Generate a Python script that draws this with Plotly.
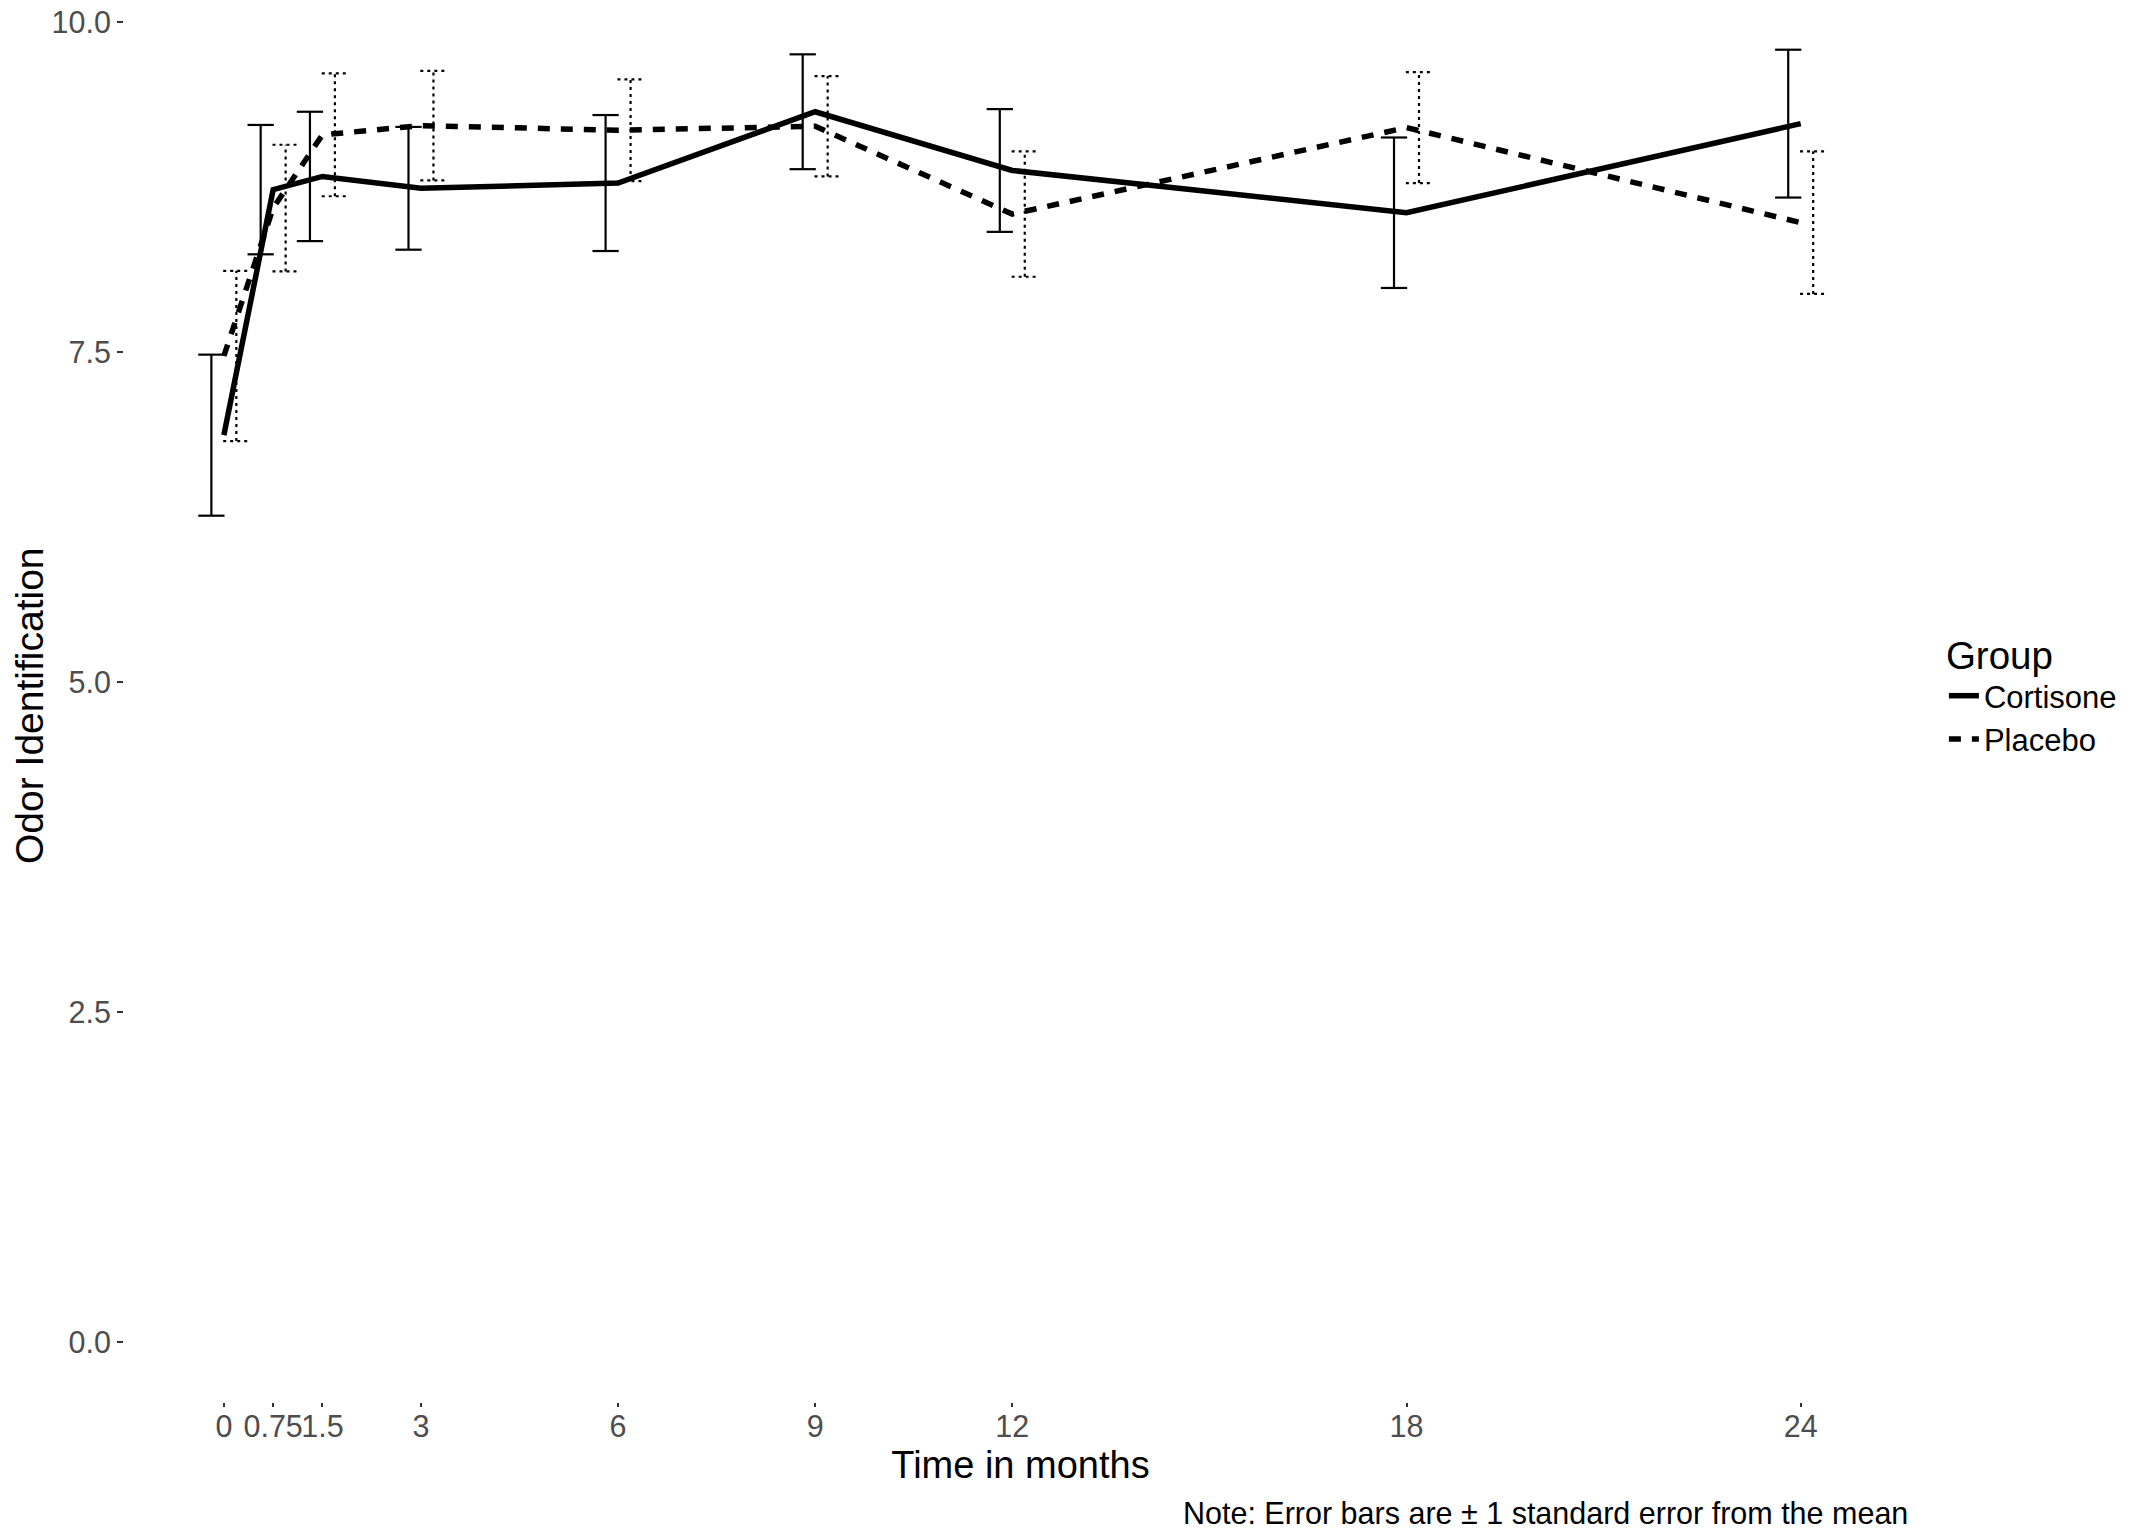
import plotly.graph_objects as go

# time points (months)
months = [0, 0.75, 1.5, 3, 6, 9, 12, 18, 24]
tick_labels = ["0", "0.75", "1.5", "3", "6", "9", "12", "18", "24"]

# mean odor identification scores and standard errors
cortisone_mean = [6.87, 8.73, 8.83, 8.74, 8.78, 9.32, 8.875, 8.555, 9.23]
cortisone_se = [0.61, 0.49, 0.49, 0.465, 0.515, 0.435, 0.465, 0.57, 0.56]
placebo_mean = [7.47, 8.59, 9.145, 9.215, 9.18, 9.21, 8.545, 9.20, 8.48]
placebo_se = [0.645, 0.48, 0.465, 0.415, 0.385, 0.38, 0.475, 0.42, 0.54]

FONT = "Liberation Sans, Arial, sans-serif"
dodge = 0.19   # error bars shifted left/right of the time point
cap = 0.2      # half width of the error bar caps


def errorbar_path(xs, means, ses, shift):
    px, py = [], []
    for x, m, s in zip(xs, means, ses):
        xc = x + shift
        lo, hi = m - s, m + s
        px += [xc, xc, None, xc - cap, xc + cap, None, xc - cap, xc + cap, None]
        py += [lo, hi, None, hi, hi, None, lo, lo, None]
    return px, py


fig = go.Figure()

ex, ey = errorbar_path(months, cortisone_mean, cortisone_se, -dodge)
fig.add_trace(go.Scatter(x=ex, y=ey, mode="lines", showlegend=False,
                         hoverinfo="skip",
                         line=dict(color="black", width=2.2)))
ex, ey = errorbar_path(months, placebo_mean, placebo_se, dodge)
fig.add_trace(go.Scatter(x=ex, y=ey, mode="lines", showlegend=False,
                         hoverinfo="skip",
                         line=dict(color="black", width=2.2, dash="3px,4px")))

fig.add_trace(go.Scatter(x=months, y=cortisone_mean, mode="lines",
                         name="Cortisone",
                         line=dict(color="black", width=5.5)))
fig.add_trace(go.Scatter(x=months, y=placebo_mean, mode="lines",
                         name="Placebo",
                         line=dict(color="black", width=5.5, dash="12px,11px")))

fig.add_annotation(text="Note: Error bars are \u00b1 1 standard error from the mean",
                   xref="paper", yref="paper", x=0.996, y=-0.0796,
                   xanchor="right", yanchor="middle", showarrow=False,
                   font=dict(family=FONT, size=30.5, color="black"))
# y axis title
fig.add_annotation(text="Odor Identification", textangle=-90,
                   xref="paper", yref="paper", x=-0.0530, y=0.5,
                   xanchor="center", yanchor="middle", showarrow=False,
                   font=dict(family=FONT, size=39, color="black"))

fig.update_xaxes(range=[-1.52, 25.77], tickmode="array", tickvals=months,
                 ticktext=tick_labels, tickangle=0, showgrid=False,
                 zeroline=False, showline=False, ticks="outside", ticklen=4,
                 tickwidth=2, tickcolor="#333333", ticklabelstandoff=-7,
                 tickfont=dict(family=FONT, size=30.5, color="#4d4d4d"),
                 title=dict(text="Time in months", standoff=9,
                            font=dict(family=FONT, size=38, color="black")))
fig.update_yaxes(range=[-0.4545, 10.106], tickmode="array",
                 tickvals=[0, 2.5, 5, 7.5, 10],
                 ticktext=["0.0", "2.5", "5.0", "7.5", "10.0"],
                 ticklabeloverflow="allow",
                 showgrid=False, zeroline=False, showline=False,
                 ticks="outside", ticklen=6, tickwidth=2, tickcolor="#333333",
                 tickfont=dict(family=FONT, size=30.5, color="#4d4d4d"))

fig.update_layout(width=2133, height=1530,
                  margin=dict(l=116, r=224, t=0, b=136, autoexpand=False),
                  plot_bgcolor="white", paper_bgcolor="white",
                  legend=dict(x=1.015, y=0.5617, xanchor="left", yanchor="top",
                              title=dict(text="Group",
                                         font=dict(family=FONT, size=38.5,
                                                   color="black")),
                              font=dict(family=FONT, size=31, color="black"),
                              itemwidth=30, tracegroupgap=0))

fig.write_html("out.html")
